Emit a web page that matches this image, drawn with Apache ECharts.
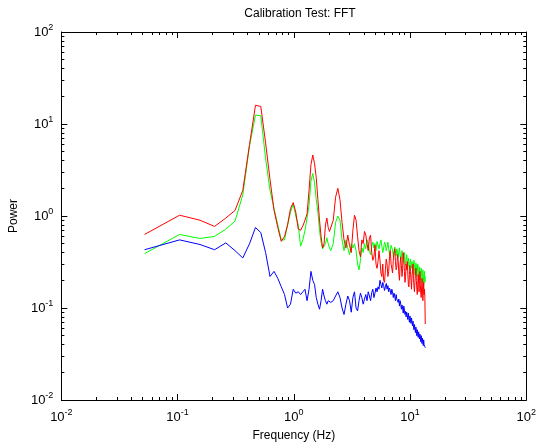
<!DOCTYPE html>
<html>
<head>
<meta charset="utf-8">
<script src="https://cdn.jsdelivr.net/npm/echarts@6/dist/echarts.min.js"></script>
<style>html,body{margin:0;padding:0;background:#fff}#c{width:539px;height:447px}</style>
</head>
<body>
<div id="c"></div>
<script>
// Frequencies (Hz)
var freq = [0.052,0.104,0.156,0.208,0.26,0.312,0.364,0.416,0.468,0.52,0.572,0.624,0.676,0.728,0.78,0.832,0.884,0.936,0.988,1.04,
1.092,1.144,1.196,1.248,1.3,1.352,1.404,1.456,1.508,1.56,1.612,1.664,1.716,1.768,1.82,1.872,1.924,1.976,2.028,2.08,
2.184,2.288,2.392,2.496,2.6,2.704,2.808,2.912,3.016,3.12,
3.224,3.328,3.432,3.536,3.64,3.744,3.848,3.952,4.056,4.16,
4.264,4.368,4.472,4.576,4.68,4.784,4.888,4.992,5.096,5.2,
5.304,5.408,5.512,5.616,5.72,5.824,5.928,6.032,6.136,6.24,
6.344,6.448,6.552,6.656,6.76,6.864,6.968,7.072,7.176,7.28,
7.384,7.488,7.592,7.696,7.8,7.904,8.008,8.112,8.216,8.32,
8.424,8.528,8.632,8.736,8.84,8.944,9.048,9.152,9.256,9.36,
9.464,9.568,9.672,9.776,9.88,9.984,10.088,10.192,10.296,10.4,
10.504,10.608,10.712,10.816,10.92,11.024,11.128,11.232,11.336,11.44,
11.544,11.648,11.752,11.856,11.96,12.064,12.168,12.272,12.376,12.48,
12.584,12.688,12.792,12.896,13.0,13.104,13.208,13.312,13.416,13.52];

var red = [0.63,1.02,0.9,0.77,0.95,1.15,1.9,6.0,16.0,15.5,6.2,2.5,1.15,0.75,0.53,0.6,0.8,1.2,1.4,1.1,
0.72,0.7,0.78,0.9,1.05,1.9,3.6,4.6,3.7,2.6,1.5,0.9,0.6,0.45,0.5,0.8,0.95,0.75,0.68,0.7,
0.9,1.6,2.0,1.5,0.85,0.55,0.45,0.62,0.48,0.4,
0.7,1.02,0.9,0.6,0.42,0.36,0.55,0.5,0.68,0.62,
0.5,0.42,0.58,0.62,0.4,0.33,0.36,0.48,0.3,0.27,
0.32,0.42,0.33,0.24,0.22,0.3,0.2,0.19,0.26,0.34,
0.3,0.22,0.25,0.36,0.42,0.3,0.27,0.24,0.33,0.4,
0.44,0.32,0.26,0.28,0.38,
0.33,0.24,0.2,0.3,0.36,0.29,0.22,0.27,0.4,0.34,
0.25,0.19,0.22,0.3,0.26,0.32,0.24,0.18,0.17,0.23,0.29,0.25,0.2,0.16,0.22,
0.26,0.3,0.21,0.17,0.15,0.19,0.24,0.27,0.2,0.16,0.14,0.18,0.23,0.19,0.15,
0.2,0.25,0.18,0.14,0.13,0.17,0.21,0.16,0.12,0.15,0.19,0.14,0.16,0.13,0.067];

var green = [0.39,0.63,0.57,0.6,0.72,0.88,1.7,5.8,12.5,12.3,4.2,1.9,1.2,0.8,0.55,0.55,0.8,1.1,1.35,1.0,
0.8,0.47,0.55,0.7,0.95,1.3,2.4,2.9,2.3,1.5,1.1,0.7,0.52,0.44,0.42,0.5,0.58,0.5,0.45,0.42,
0.5,0.85,1.0,0.9,0.55,0.42,0.55,0.45,0.38,0.5,
0.45,0.5,0.42,0.3,0.26,0.33,0.45,0.4,0.5,0.44,
0.55,0.5,0.42,0.38,0.47,0.52,0.45,0.5,0.42,0.53,
0.48,0.44,0.5,0.55,0.47,0.4,0.45,0.52,0.49,0.42,
0.46,0.52,0.44,0.38,0.42,0.48,0.5,0.43,0.36,0.4,0.46,0.42,0.37,0.44,0.4,
0.35,0.41,0.45,0.38,0.33,0.36,0.42,0.37,0.31,0.35,0.4,0.33,0.29,0.34,0.38,
0.32,0.28,0.35,0.3,0.26,0.31,0.34,0.29,0.27,0.32,
0.28,0.24,0.3,0.33,0.27,0.23,0.26,0.31,0.28,0.22,0.25,0.3,0.27,0.21,0.24,
0.28,0.25,0.2,0.23,0.27,0.24,0.19,0.22,0.26,0.23,0.18,0.21,0.25,0.19,0.22];

var blue = [0.43,0.55,0.49,0.43,0.51,0.42,0.35,0.5,0.75,0.66,0.4,0.22,0.25,0.21,0.17,0.14,0.1,0.11,0.16,0.145,
0.15,0.14,0.15,0.16,0.12,0.16,0.25,0.2,0.18,0.13,0.11,0.097,0.12,0.16,0.135,0.12,0.11,0.12,0.125,0.115,
0.12,0.135,0.15,0.13,0.1,0.085,0.11,0.135,0.12,0.09,
0.13,0.15,0.1,0.093,0.12,0.145,0.13,0.11,0.125,0.14,
0.12,0.15,0.135,0.12,0.147,0.16,0.13,0.145,0.165,0.15,
0.17,0.16,0.2,0.18,0.165,0.19,0.175,0.155,0.17,0.185,
0.16,0.175,0.15,0.165,0.155,0.14,0.16,0.15,0.13,0.145,0.135,0.12,0.14,0.125,0.13,
0.115,0.125,0.105,0.12,0.11,0.097,0.108,0.1,0.088,0.105,0.095,0.085,0.092,0.08,0.09,
0.083,0.075,0.088,0.078,0.07,0.082,0.074,0.068,0.078,0.07,
0.064,0.072,0.062,0.058,0.066,0.06,0.054,0.062,0.056,0.05,0.058,0.053,0.048,0.055,0.05,
0.046,0.052,0.047,0.043,0.05,0.045,0.041,0.047,0.043,0.039,0.045,0.04,0.042,0.038,0.037];

var majorTicks = [0.01,0.1,1,10,100];
var minorTicks = [0.02,0.03,0.04,0.05,0.06,0.07,0.08,0.09,0.2,0.3,0.4,0.5,0.6,0.7,0.8,0.9,2,3,4,5,6,7,8,9,20,30,40,50,60,70,80,90];

var FONT = 'Liberation Sans, Arial, sans-serif';
function pair(ys){ return freq.map(function(f,i){ return [f, ys[i]]; }); }
function fmt(v){ var e = Math.round(Math.log10(v)); return '{b|10}{s|' + e + '}'; }
var rich = { b:{fontSize:13, fontFamily:FONT, color:'#000'}, s:{fontSize:9, fontFamily:FONT, color:'#000', padding:[0,0,9,0]} };

function axis(kind, pos, major, withLabel, extra){
  var a = {
    type:'log', logBase:10, min:0.01, max:100, position:pos,
    axisLine:{show:major, lineStyle:{color:'#000', width:1}},
    axisTick:{show:true, inside:true, length: major?6:3, customValues: major?majorTicks:minorTicks, lineStyle:{color:'#000', width:1}},
    axisLabel:{show:withLabel, customValues: majorTicks, formatter: fmt, rich: rich, margin: 8},
    splitLine:{show:false}, minorTick:{show:false}
  };
  for (var k in extra) a[k] = extra[k];
  return a;
}

var chart = echarts.init(document.getElementById('c'));
chart.setOption({
  backgroundColor:'#fff',
  animation:false,
  title:{text:'Calibration Test: FFT', left:295, top:3, textAlign:'center',
    textStyle:{fontSize:12, fontWeight:'normal', color:'#000', fontFamily:FONT}},
  grid:{left:60, right:9, top:32, bottom:46, containLabel:false},
  xAxis:[
    axis('x','bottom',true,true,{name:'Frequency (Hz)', nameLocation:'middle', nameGap:30, nameTextStyle:{fontSize:12, color:'#000', fontFamily:FONT}}),
    axis('x','bottom',false,false,{}),
    axis('x','top',true,false,{}),
    axis('x','top',false,false,{})
  ],
  yAxis:[
    axis('y','left',true,true,{name:'Power', nameLocation:'middle', nameGap:35, nameTextStyle:{fontSize:12, color:'#000', fontFamily:FONT}}),
    axis('y','left',false,false,{}),
    axis('y','right',true,false,{}),
    axis('y','right',false,false,{})
  ],
  series:[
    {type:'line', data:pair(green), showSymbol:false, symbol:'none', lineStyle:{color:'#00ff00', width:1}, itemStyle:{color:'#00ff00'}},
    {type:'line', data:pair(red), showSymbol:false, symbol:'none', lineStyle:{color:'#ff0000', width:1}, itemStyle:{color:'#ff0000'}},
    {type:'line', data:pair(blue), showSymbol:false, symbol:'none', lineStyle:{color:'#0000ff', width:1}, itemStyle:{color:'#0000ff'}}
  ]
});
</script>
</body>
</html>
